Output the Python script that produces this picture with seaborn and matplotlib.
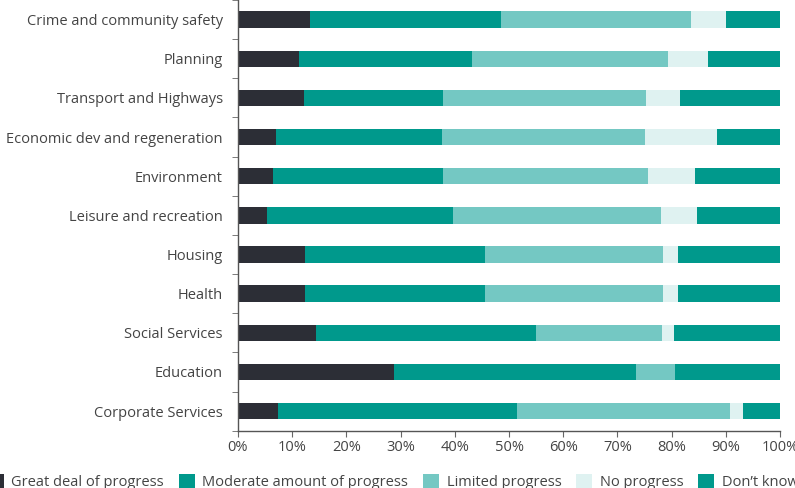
import numpy as np
import pandas as pd
import matplotlib
matplotlib.use('Agg')
import matplotlib.pyplot as plt
from matplotlib.patches import Patch
import seaborn as sns

# share of respondents per service area (%)
services = ['Crime and community safety', 'Planning', 'Transport and Highways',
            'Economic dev and regeneration', 'Environment', 'Leisure and recreation',
            'Housing', 'Health', 'Social Services', 'Education', 'Corporate Services']
great_deal = [13.2, 11.3, 12.1, 7.1, 6.4, 5.3, 12.3, 12.3, 14.3, 28.8, 7.3]
moderate = [35.3, 31.8, 25.8, 30.6, 31.5, 34.4, 33.2, 33.2, 40.6, 44.6, 44.2]
limited = [35.1, 36.3, 37.3, 37.4, 37.8, 38.3, 32.9, 32.9, 23.3, 7.3, 39.2]
no_progress = [6.4, 7.3, 6.4, 13.2, 8.6, 6.6, 2.8, 2.8, 2.2, 0.0, 2.4]
dont_know = [10.0, 13.3, 18.4, 11.7, 15.7, 15.4, 18.8, 18.8, 19.6, 19.3, 6.9]

series_names = ['Great deal of progress', 'Moderate amount of progress',
                'Limited progress', 'No progress', 'Don\u2019t know']
colors = ['#2c2e36', '#00998c', '#74c8c3', '#dff2f1', '#00998c']
x_ticks = np.arange(0, 101, 10)

plt.rcParams['font.family'] = ['Open Sans', 'DejaVu Sans']
plt.rcParams['font.size'] = 10.5

df = pd.DataFrame({'service': services})
parts = [great_deal, moderate, limited, no_progress, dont_know]
cum = np.cumsum(np.array(parts), axis=0)

fig = plt.figure(figsize=(7.95, 4.88), dpi=100)
ax = fig.add_axes([238 / 795, 1 - 430.7 / 488, (780 - 238) / 795, 430.7 / 488])

# draw cumulative totals from the widest down so each segment shows through
for i in range(len(parts) - 1, -1, -1):
    df['total'] = cum[i]
    sns.barplot(data=df, x='total', y='service', color=colors[i], orient='h',
                width=0.42, linewidth=0, saturation=1, ax=ax)

ax.set_xlim(0, 100)
ax.set_ylim(10.5, -0.5)
ax.set_xticks(x_ticks)
ax.set_xticklabels([f'{t}%' for t in x_ticks])
ax.set_yticks(np.arange(-0.5, len(services), 1), minor=True)
ax.set_xlabel('')
ax.set_ylabel('')
ax.tick_params(axis='y', which='major', length=0, pad=11, labelcolor='#444444')
ax.tick_params(axis='y', which='minor', length=4, color='#666666')
ax.tick_params(axis='x', length=4, color='#666666', labelcolor='#444444', pad=3)
for s in ['top', 'right']:
    ax.spines[s].set_visible(False)
for s in ['left', 'bottom']:
    ax.spines[s].set_color('#555555')
    ax.spines[s].set_linewidth(1)

handles = [Patch(facecolor=c, edgecolor='none') for c in colors]
fig.legend(handles, series_names, loc='center left', bbox_to_anchor=(-12 / 795, 1 - 482 / 488),
           ncol=5, frameon=False, borderpad=0, borderaxespad=0, handlelength=1.1,
           handleheight=1.1, handletextpad=0.5, columnspacing=1.03, labelcolor='#444444')

fig.savefig('out.png', dpi=100)
